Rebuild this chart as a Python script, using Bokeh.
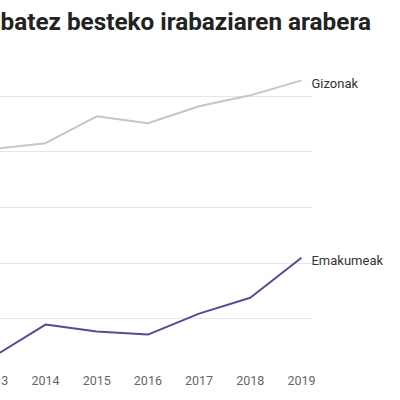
from bokeh.plotting import figure
from bokeh.models import ColumnDataSource, LabelSet, FixedTicker, Title, Range1d
from bokeh.core.properties import value
from bokeh.embed import file_html
from bokeh.resources import INLINE

years = [2013, 2014, 2015, 2016, 2017, 2018, 2019]
gizonak = [28110, 28314, 29283, 29031, 29641, 30036, 30574]
emakumeak = [20648, 21785, 21534, 21426, 22179, 22753, 24188]
series_names = ["Gizonak", "Emakumeak"]
y_ticks = [22000, 24000, 26000, 28000, 30000]
title_text = "batez besteko irabaziaren arabera"

x_start, x_grid_end, x_end = 2012.926, 2019.215, 2020.934

p = figure(width=430, height=400, output_backend="svg", toolbar_location=None,
           x_range=Range1d(x_start, x_end), y_range=Range1d(20421, 31758),
           min_border_left=20, min_border_right=0, min_border_top=53,
           min_border_bottom=31,
           styles={"margin-left": "-30px", "margin-top": "-7px"})
p.outline_line_color = None
p.background_fill_color = "white"
p.border_fill_color = "white"

t = Title(text=title_text, text_font="Roboto", text_font_size="24.3px",
          text_font_style="bold", text_color="#222222", align="left",
          offset=10, standoff=23)
p.add_layout(t, "above")

p.yaxis.visible = False
p.xaxis.axis_line_color = None
p.xaxis.major_tick_line_color = None
p.xaxis.minor_tick_line_color = None
p.xaxis.ticker = FixedTicker(ticks=years)
p.xaxis.major_label_text_font = "Roboto"
p.xaxis.major_label_text_font_size = "12.5px"
p.xaxis.major_label_text_color = "#666666"
p.xaxis.major_label_standoff = 7

p.xgrid.grid_line_color = None
p.ygrid.ticker = FixedTicker(ticks=y_ticks)
p.ygrid.grid_line_color = "#e6e6e6"
p.ygrid.grid_line_width = 1
p.ygrid.cross_bounds = (x_start, x_grid_end)

p.line(years, gizonak, line_color="#c6c6c6", line_width=2)
p.line(years, emakumeak, line_color="#5b46a6", line_width=2)

lab_src = ColumnDataSource(dict(x=[years[-1], years[-1]],
                                y=[gizonak[-1], emakumeak[-1]],
                                text=series_names))
labels = LabelSet(x="x", y="y", text="text", source=lab_src, x_offset=10,
                  y_offset=-3, text_baseline="middle", text_font=value("Roboto"),
                  text_font_size="13px", text_color="#333333")
p.add_layout(labels)

open("out.html", "w").write(file_html(p, INLINE))
